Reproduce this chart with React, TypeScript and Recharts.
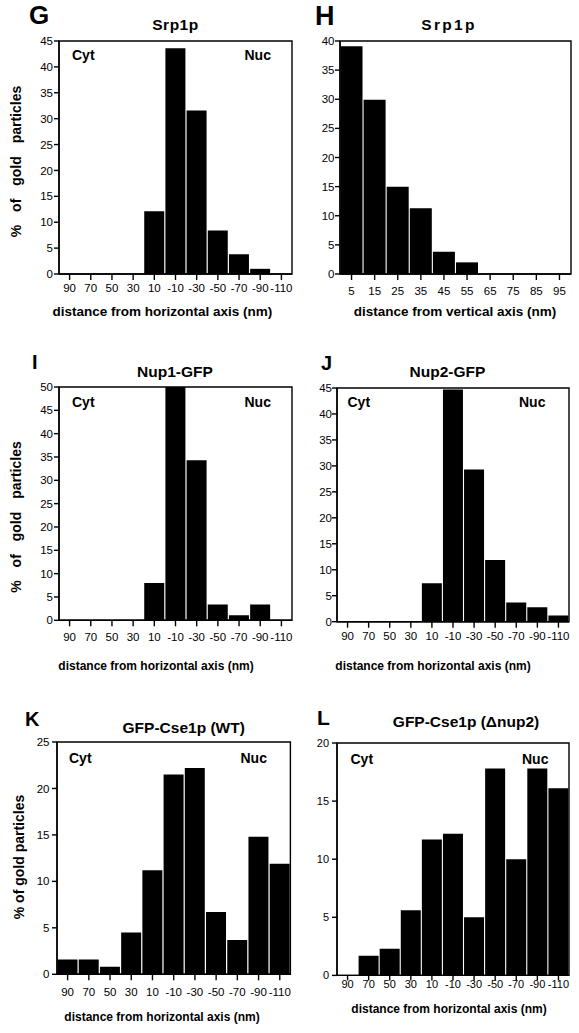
import React from 'react';
import { BarChart, Bar, XAxis, YAxis, ReferenceArea } from 'recharts';

const FONT = '"Liberation Sans", Arial, Helvetica, sans-serif';

// bins (nm)
const HORIZONTAL_BINS = ['90', '70', '50', '30', '10', '-10', '-30', '-50', '-70', '-90', '-110'];
const VERTICAL_BINS = ['5', '15', '25', '35', '45', '55', '65', '75', '85', '95'];

// % of gold particles
const SRP1P_HORIZONTAL = [0, 0, 0, 0, 12.1, 43.6, 31.6, 8.4, 3.8, 1.0, 0];
const SRP1P_VERTICAL = [39.1, 29.9, 15.0, 11.3, 3.8, 2.0, 0, 0, 0, 0];
const NUP1_GFP = [0, 0, 0, 0, 8.0, 50, 34.3, 3.4, 1.1, 3.4, 0];
const NUP2_GFP = [0, 0, 0, 0, 7.4, 44.7, 29.3, 11.9, 3.7, 2.8, 1.2];
const CSE1_WT = [1.6, 1.6, 0.8, 4.5, 11.2, 21.5, 22.2, 6.7, 3.7, 14.8, 11.9];
const CSE1_DNUP2 = [0, 1.7, 2.3, 5.6, 11.7, 12.2, 5.0, 17.8, 10.0, 17.8, 16.1];

const TICKS_20 = [0, 5, 10, 15, 20];
const TICKS_25 = [0, 5, 10, 15, 20, 25];
const TICKS_40 = [0, 5, 10, 15, 20, 25, 30, 35, 40];
const TICKS_45 = [0, 5, 10, 15, 20, 25, 30, 35, 40, 45];
const TICKS_50 = [0, 5, 10, 15, 20, 25, 30, 35, 40, 45, 50];

const X_LABEL_H = 'distance from horizontal axis (nm)';
const X_LABEL_V = 'distance from vertical axis (nm)';

type Panel = {
  letter: string;
  title: string;
  bins: string[];
  values: number[];
  yTicks: number[];
  plot: [number, number, number, number]; // left, top, right, bottom
  xTickLen: number;
  xTickGap: number;
  yTickGap: number;
  tickFont: number;
  letterAt: [number, number, number];
  titleAt: [number, number, number];
  xLabel: string;
  xLabelAt: [number, number, number];
  yLabelAt?: [number, number, number];
  cytNuc?: [number, number, number];
};

const PANELS: Panel[] = [
  {
    letter: 'G', title: 'Srp1p', bins: HORIZONTAL_BINS, values: SRP1P_HORIZONTAL, yTicks: TICKS_45,
    plot: [59.3, 41, 292.3, 274], xTickLen: 6, xTickGap: 3.5, yTickGap: 1, tickFont: 11.5,
    letterAt: [29, 23.5, 26], titleAt: [175.5, 29.5, 0.5],
    xLabel: X_LABEL_H, xLabelAt: [162.3, 316, 13.5],
    yLabelAt: [21, 161.5, 9], cytNuc: [72, 244.5, 60],
  },
  {
    letter: 'H', title: 'Srp1p', bins: VERTICAL_BINS, values: SRP1P_VERTICAL, yTicks: TICKS_40,
    plot: [340, 41, 571, 274], xTickLen: 6, xTickGap: 6.5, yTickGap: 0.5, tickFont: 11.5,
    letterAt: [315, 25, 27], titleAt: [449, 29.5, 2.3],
    xLabel: X_LABEL_V, xLabelAt: [455, 316, 13.5],
  },
  {
    letter: 'I', title: 'Nup1-GFP', bins: HORIZONTAL_BINS, values: NUP1_GFP, yTicks: TICKS_50,
    plot: [59.3, 386.7, 292.3, 620], xTickLen: 6, xTickGap: 7, yTickGap: 1, tickFont: 11.5,
    letterAt: [32, 369.3, 20], titleAt: [175, 376.7, 0],
    xLabel: X_LABEL_H, xLabelAt: [156, 670, 12],
    yLabelAt: [20.5, 517, 9], cytNuc: [72, 244.5, 406.7],
  },
  {
    letter: 'J', title: 'Nup2-GFP', bins: HORIZONTAL_BINS, values: NUP2_GFP, yTicks: TICKS_45,
    plot: [337.3, 388.3, 569.3, 622], xTickLen: 6, xTickGap: 4.5, yTickGap: 0, tickFont: 11.5,
    letterAt: [321, 369.5, 20], titleAt: [447.5, 376.7, 0],
    xLabel: X_LABEL_H, xLabelAt: [433, 670, 12],
    cytNuc: [347.5, 519, 407.3],
  },
  {
    letter: 'K', title: 'GFP-Cse1p (WT)', bins: HORIZONTAL_BINS, values: CSE1_WT, yTicks: TICKS_25,
    plot: [57.3, 741.7, 290.7, 974], xTickLen: 6, xTickGap: 8, yTickGap: 2.5, tickFont: 11.5,
    letterAt: [25, 726, 20], titleAt: [183.7, 732.7, 0],
    xLabel: X_LABEL_H, xLabelAt: [162, 1021, 12],
    yLabelAt: [23.5, 857, 0], cytNuc: [69, 240.5, 762.7],
  },
  {
    letter: 'L', title: 'GFP-Cse1p (\u0394nup2)', bins: HORIZONTAL_BINS, values: CSE1_DNUP2, yTicks: TICKS_20,
    plot: [337.3, 743.3, 569.3, 975.7], xTickLen: 5, xTickGap: 0, yTickGap: 3, tickFont: 11,
    letterAt: [317, 725, 21], titleAt: [466, 727.3, 0],
    xLabel: X_LABEL_H, xLabelAt: [449, 1013, 12],
    cytNuc: [350.5, 522, 764],
  },
];

const PAD_L = 40;
const PAD_T = 10;
const PAD_R = 6;
const AXIS_H = 30;

function Histogram({ p }: { p: Panel }) {
  const [l, t, r, b] = p.plot;
  const rows = p.bins.map((bin, i) => ({ bin, pct: p.values[i] }));
  const yMax = p.yTicks[p.yTicks.length - 1];
  const tickStyle = { fill: '#000', fontSize: p.tickFont, fontFamily: FONT };
  return (
    <div style={{ position: 'absolute', left: l - PAD_L, top: t - PAD_T }}>
      <BarChart
        width={r - l + PAD_L + PAD_R}
        height={b - t + PAD_T + AXIS_H}
        data={rows}
        margin={{ top: PAD_T, right: PAD_R, left: 0, bottom: 0 }}
        barCategoryGap={0.5}
      >
        <XAxis
          dataKey="bin" interval={0} height={AXIS_H}
          tickSize={p.xTickLen} tickMargin={p.xTickGap}
          stroke="#000" strokeWidth={1.4} tick={tickStyle}
        />
        <YAxis
          type="number" domain={[0, yMax]} ticks={p.yTicks} allowDataOverflow interval={0}
          width={PAD_L} tickSize={5} tickMargin={p.yTickGap}
          stroke="#000" strokeWidth={1.4} tick={tickStyle}
        />
        <Bar dataKey="pct" fill="#000" isAnimationActive={false} />
        {/* box round the plot area (top and right edges) */}
        <ReferenceArea y1={0} y2={yMax} fill="none" stroke="#000" strokeWidth={1.4} ifOverflow="visible" />
      </BarChart>
    </div>
  );
}

function Annotations() {
  return (
    <svg
      width={579} height={1033}
      style={{ position: 'absolute', left: 0, top: 0, pointerEvents: 'none' }}
      fontFamily={FONT} fontWeight="bold" fill="#000"
    >
      {PANELS.map((p) => (
        <g key={p.letter}>
          <text x={p.letterAt[0]} y={p.letterAt[1]} fontSize={p.letterAt[2]}>{p.letter}</text>
          <text x={p.titleAt[0]} y={p.titleAt[1]} fontSize={15.5} textAnchor="middle" letterSpacing={p.titleAt[2]}>
            {p.title}
          </text>
          <text x={p.xLabelAt[0]} y={p.xLabelAt[1]} fontSize={p.xLabelAt[2]} textAnchor="middle">
            {p.xLabel}
          </text>
          {p.cytNuc && (
            <>
              <text x={p.cytNuc[0]} y={p.cytNuc[2]} fontSize={14}>Cyt</text>
              <text x={p.cytNuc[1]} y={p.cytNuc[2]} fontSize={14}>Nuc</text>
            </>
          )}
          {p.yLabelAt && (
            <text
              x={p.yLabelAt[0]} y={p.yLabelAt[1]} fontSize={14} textAnchor="middle"
              wordSpacing={p.yLabelAt[2]}
              transform={`rotate(-90, ${p.yLabelAt[0]}, ${p.yLabelAt[1]})`}
            >
              % of gold particles
            </text>
          )}
        </g>
      ))}
    </svg>
  );
}

export default function App() {
  return (
    <div style={{ position: 'absolute', left: 0, top: 0, width: 579, height: 1033, background: '#fff', fontFamily: FONT }}>
      {PANELS.map((p) => (
        <Histogram key={p.letter} p={p} />
      ))}
      <Annotations />
    </div>
  );
}
